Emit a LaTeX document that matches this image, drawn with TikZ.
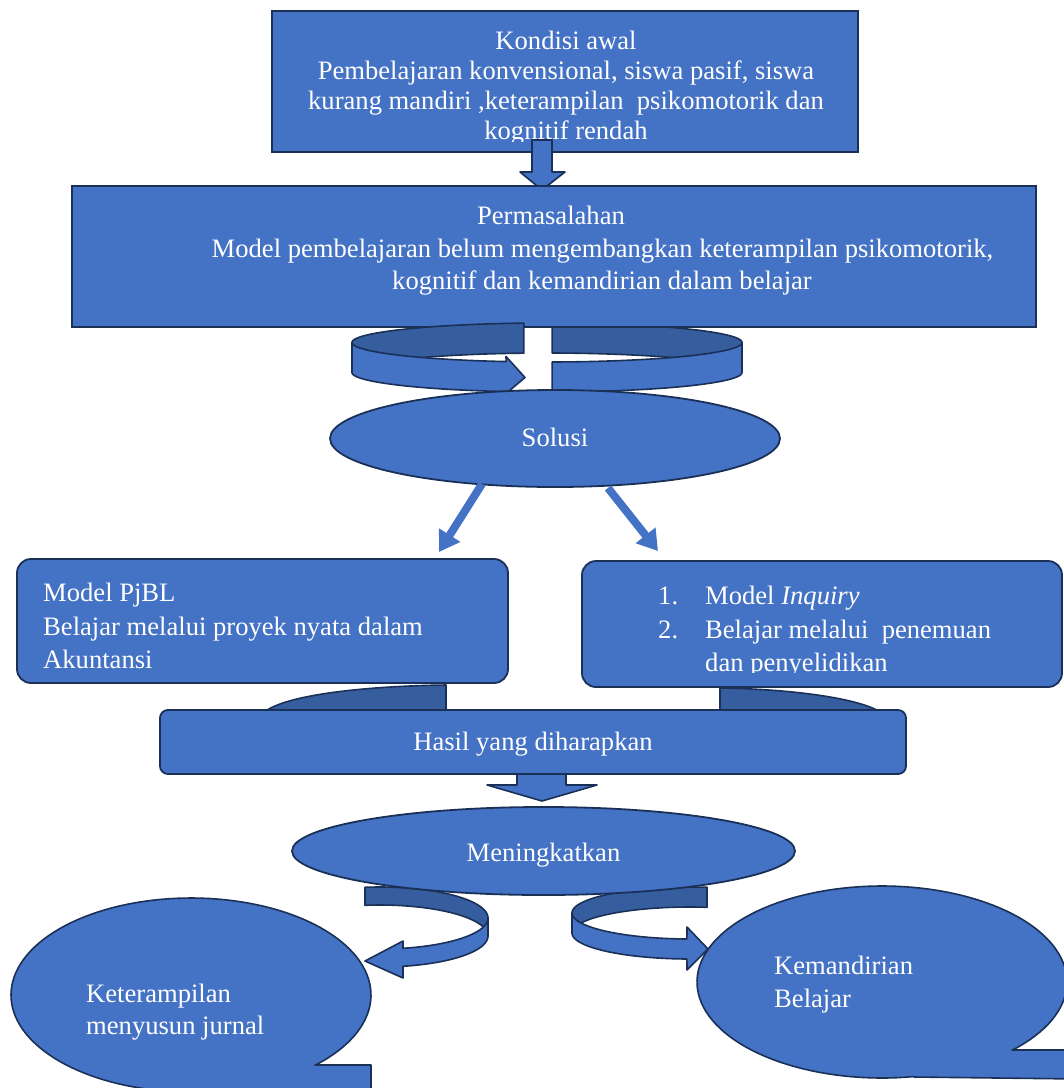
\documentclass[tikz,border=0pt]{standalone}
\usepackage{fontspec}
\setmainfont{Liberation Serif}
\usetikzlibrary{shapes.geometric,arrows.meta}
\definecolor{fillblue}{HTML}{4472C4}
\definecolor{bandblue}{HTML}{365E9F}
\definecolor{edgeblue}{HTML}{1B3056}
\newcommand\txtsize{\fontsize{26.6pt}{30.6pt}\selectfont}
\begin{document}
\begin{tikzpicture}[x=1pt,y=-1pt,
  box/.style={draw=edgeblue, fill=fillblue, line width=1.8pt, inner sep=0pt, rectangle},
  rbox/.style={box, rounded corners=14pt},
  oval/.style={draw=edgeblue, fill=fillblue, line width=1.8pt, ellipse, inner sep=0pt, text=white, font=\txtsize},
  back/.style={draw=edgeblue, fill=bandblue, line width=1.6pt, line join=round},
  front/.style={draw=edgeblue, fill=fillblue, line width=1.6pt, line join=round},
  lbl/.style={text=white, inner sep=0pt, font=\txtsize, anchor=base},
  lblw/.style={lbl, anchor=base west},
  thinarrow/.style={draw=fillblue, line width=8pt, -{Triangle[width=24pt,length=20pt]}}
]
\useasboundingbox (0,0) rectangle (1064,1088);
\begin{scope}
\clip (0,0) rectangle (1064,1088);

% Kondisi awal
\node[box, minimum width=586pt, minimum height=141pt] (kondisi) at (565,81.5) {};
\begin{scope}
\clip (273,12) rectangle (857,141);
\node[lbl] (k1) at (566,49) {Kondisi awal};
\node[lbl] (k2) at (566,79) {Pembelajaran konvensional, siswa pasif, siswa};
\node[lbl] (k3) at (566,109) {kurang mandiri ,keterampilan\ \ psikomotorik dan};
\node[lbl] (k4) at (566,139) {kognitif rendah};
\end{scope}

% down arrow 1
\draw[front] (532,140) -- (552,140) -- (552,172) -- (565,172) -- (542,190) -- (520,172) -- (532,172) -- cycle;

% right part of top circular arrow
\draw[back] plot[domain=271.5:360, samples=40] ({547+195*cos(\x)},{342.5+19.5*sin(\x)})
  -- plot[domain=360:271.5, samples=40] ({547+195*cos(\x)},{372.5+19.5*sin(\x)}) -- cycle;
\draw[front] plot[domain=0:88.5, samples=40] ({547+195*cos(\x)},{342.5+19.5*sin(\x)})
  -- plot[domain=88.5:0, samples=40] ({547+195*cos(\x)},{372.5+19.5*sin(\x)}) -- cycle;

% Permasalahan
\node[box, minimum width=964pt, minimum height=141pt] (masalah) at (554,256.5) {};
\node[lbl] (m1) at (551,224) {Permasalahan};
\node[lbl] (m2) at (602.5,257) {Model pembelajaran belum mengembangkan keterampilan psikomotorik,};
\node[lbl] (m3) at (602,289) {kognitif dan kemandirian dalam belajar};

% left part of top circular arrow
\draw[back] plot[domain=263.2:180, samples=40] ({547+195*cos(\x)},{342.5+19.5*sin(\x)})
  -- plot[domain=180:263.2, samples=40] ({547+195*cos(\x)},{372.5+19.5*sin(\x)}) -- cycle;
\draw[front] plot[domain=180:102.1, samples=40] ({547+195*cos(\x)},{342.5+19.5*sin(\x)})
  -- (506,356.5) -- (525,377.5) -- (506,393.5)
  -- plot[domain=102.1:180, samples=40] ({547+195*cos(\x)},{372.5+19.5*sin(\x)}) -- cycle;

% Solusi
\node[oval, minimum width=450pt, minimum height=97pt] (solusi) at (555,438.5) {};
\node[lbl] (solusitxt) at (555,446) {Solusi};

% straight arrows
\coordinate (sa1) at (482,484);
\coordinate (sa2) at (439,552);
\coordinate (sb1) at (608,488);
\coordinate (sb2) at (658,551);
\draw[thinarrow] (sa1) -- (sa2);
\draw[thinarrow] (sb1) -- (sb2);

% hidden curved pieces behind Hasil
\draw[back] (263,713) .. controls (285,694) and (370,686) .. (446,685) -- (446,713) -- cycle;
\draw[back] (720,688) .. controls (790,689) and (860,698) .. (882,713) -- (720,713) -- cycle;

% PjBL box
\node[rbox, minimum width=491pt, minimum height=124pt] (pjbl) at (262.5,621) {};
\begin{scope}
\clip (18,560) rectangle (507,670);
\node[lblw] (p1) at (43,601) {Model PjBL};
\node[lblw] (p2) at (43,635) {Belajar melalui proyek nyata dalam};
\node[lblw] (p3) at (43,668) {Akuntansi};
\end{scope}

% Inquiry box
\node[rbox, minimum width=480pt, minimum height=126pt] (inquiry) at (822,624) {};
\begin{scope}
\clip (583,562) rectangle (1061,672.5);
\node[lblw] (i1) at (658,604) {\makebox[47pt][l]{1.}Model \textit{Inquiry}};
\node[lblw] (i2) at (658,638) {\makebox[47pt][l]{2.}Belajar melalui\ \ penemuan};
\node[lblw] (i3) at (705,671) {dan penyelidikan};
\end{scope}

% down arrow 2
\draw[front] (517,772) -- (566,772) -- (566,785) -- (597,785) -- (542,801) -- (487,785) -- (517,785) -- cycle;

% Hasil
\node[box, rounded corners=8pt, minimum width=746pt, minimum height=64pt] (hasil) at (533,742) {};
\node[lbl] (hasiltxt) at (533,750) {Hasil yang diharapkan};

% callouts
\draw[front] (315,1065) -- (371,1065) -- (371,1100) -- (191,1100)
  -- plot[domain=90:406.4, samples=120] ({191+180*cos(\x)},{995+97*sin(\x)}) -- cycle;
\node[lblw] (c1) at (86,1002) {Keterampilan};
\node[lblw] (c2) at (86,1034) {menyusun jurnal};

\draw[front] (1012,1050) -- (1080,1050) -- (1080,1079) -- (914,1077)
  -- plot[domain=80:405.3, samples=120] ({882+185*cos(\x)},{982+96*sin(\x)}) -- cycle;
\node[lblw] (d1) at (774,974) {Kemandirian};
\node[lblw] (d2) at (774,1007) {Belajar};

% bottom-left circular arrow
\draw[back] plot[domain=262:360, samples=40] ({380+108*cos(\x)},{918+31*sin(\x)})
  -- plot[domain=360:262, samples=40] ({380+108*cos(\x)},{936+31*sin(\x)}) -- cycle;
\draw[front] plot[domain=0:77.7, samples=40] ({380+108*cos(\x)},{918+31*sin(\x)})
  -- (403,941) -- (365,961) -- (403,978)
  -- plot[domain=77.7:0, samples=40] ({380+108*cos(\x)},{936+31*sin(\x)}) -- cycle;

% bottom-right circular arrow
\draw[back] plot[domain=278.3:180, samples=40] ({690+118*cos(\x)},{913+26*sin(\x)})
  -- plot[domain=180:278.3, samples=40] ({690+118*cos(\x)},{933+26*sin(\x)}) -- cycle;
\draw[front] plot[domain=180:91.5, samples=40] ({690+118*cos(\x)},{913+26*sin(\x)})
  -- (687,927) -- (708,949) -- (687,970)
  -- plot[domain=91.5:180, samples=40] ({690+118*cos(\x)},{933+26*sin(\x)}) -- cycle;

% Meningkatkan
\node[oval, minimum width=503pt, minimum height=88pt] (naik) at (543.5,851) {};
\node[lbl] (naiktxt) at (543.5,861) {Meningkatkan};

\end{scope}
\end{tikzpicture}
\end{document}
